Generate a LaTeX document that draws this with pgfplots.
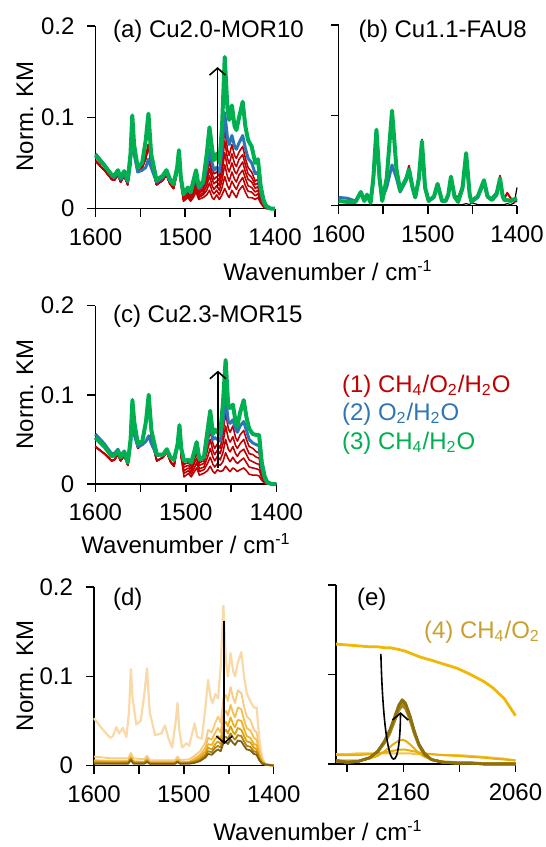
\documentclass[border=0pt]{standalone}
\usepackage{fontspec}
\setmainfont{Liberation Sans}
\usepackage{pgfplots}
\usepackage{pgfplotstable}
\pgfplotsset{compat=1.18}
\usetikzlibrary{arrows.meta}

\definecolor{cred}{HTML}{C00000}
\definecolor{cblue}{HTML}{2E75B6}
\definecolor{cgreen}{HTML}{00B050}
\definecolor{cgold}{HTML}{C9A030}
\definecolor{dA}{HTML}{FAD9A8}
\definecolor{dB}{HTML}{F8CB80}
\definecolor{dC}{HTML}{F5BE55}
\definecolor{dD}{HTML}{F0B020}
\definecolor{dE}{HTML}{D9A010}
\definecolor{dF}{HTML}{B08410}
\definecolor{dG}{HTML}{806010}
\definecolor{eHi}{HTML}{F2B705}
\definecolor{eLo}{HTML}{F5C242}
\definecolor{eP}{HTML}{E8AE10}
\definecolor{eQ}{HTML}{A88A18}
\definecolor{eR}{HTML}{8C7010}

% (a) Cu2.0-MOR10
\pgfplotstableread{
wn   g    b    r1   r2   r3   r4   r5   r6
1600 .058 .060 .052 .052 .052 .052 .052 .052
1590 .047 .048 .042 .042 .042 .042 .042 .042
1582 .037 .036 .032 .032 .032 .032 .032 .032
1579 .036 .034 .031 .031 .031 .031 .031 .031
1575 .042 .040 .037 .037 .037 .037 .037 .037
1572 .034 .032 .029 .029 .029 .029 .029 .029
1568 .041 .038 .036 .036 .036 .036 .036 .036
1564 .031 .029 .026 .026 .026 .026 .026 .026
1561 .060 .050 .055 .055 .055 .055 .055 .055
1559 .102 .090 .098 .098 .098 .098 .098 .098
1557 .070 .060 .065 .065 .065 .065 .065 .065
1553 .045 .040 .040 .040 .040 .040 .040 .040
1548 .050 .042 .045 .045 .045 .045 .045 .045
1544 .075 .045 .055 .055 .055 .055 .055 .055
1541 .104 .054 .070 .070 .070 .070 .070 .070
1538 .060 .045 .050 .050 .050 .050 .050 .050
1532 .031 .029 .026 .026 .026 .026 .026 .026
1525 .036 .034 .031 .031 .031 .031 .031 .031
1521 .042 .040 .037 .037 .037 .037 .037 .037
1517 .032 .030 .027 .027 .027 .027 .027 .027
1513 .027 .026 .022 .022 .022 .022 .022 .022
1509 .045 .042 .040 .040 .040 .040 .040 .040
1507 .064 .060 .059 .059 .059 .059 .059 .059
1505 .035 .033 .030 .030 .030 .030 .030 .030
1502 .016 .015 .008 .009 .010 .012 .013 .014
1497 .023 .021 .012 .014 .015 .017 .018 .020
1494 .018 .017 .008 .009 .011 .012 .014 .015
1491 .030 .027 .012 .015 .017 .020 .022 .025
1488 .042 .038 .018 .021 .025 .028 .032 .035
1485 .024 .022 .010 .012 .014 .016 .018 .020
1480 .030 .027 .012 .015 .017 .020 .022 .025
1476 .060 .045 .015 .020 .025 .030 .035 .040
1473 .089 .065 .020 .028 .036 .044 .052 .060
1470 .065 .050 .012 .019 .025 .032 .038 .045
1468 .053 .042 .010 .016 .021 .027 .032 .038
1465 .060 .045 .015 .020 .025 .030 .035 .040
1462 .050 .040 .010 .015 .020 .025 .030 .035
1459 .090 .065 .015 .023 .031 .039 .047 .055
1456 .166 .105 .022 .035 .048 .061 .074 .087
1453 .110 .078 .015 .025 .035 .045 .055 .065
1451 .097 .070 .012 .021 .030 .040 .049 .058
1448 .113 .080 .020 .030 .040 .050 .060 .070
1445 .090 .068 .015 .024 .032 .041 .049 .058
1443 .086 .065 .012 .021 .029 .038 .046 .055
1440 .100 .072 .020 .028 .037 .045 .054 .062
1436 .117 .080 .025 .034 .042 .051 .059 .068
1433 .090 .066 .018 .025 .033 .040 .048 .055
1430 .075 .055 .012 .019 .025 .032 .038 .045
1426 .068 .050 .012 .018 .023 .029 .034 .040
1422 .050 .038 .010 .014 .018 .022 .026 .030
1419 .054 .040 .012 .016 .020 .024 .028 .032
1416 .025 .018 .006 .008 .009 .011 .012 .014
1413 .010 .007 .002 .003 .003 .004 .004 .005
1410 .003 .002 0    0    .001 .001 .001 .001
1405 0    0    0    0    0    0    0    0
1400 0    0    0    0    0    0    0    0
}\Ta

% (b) Cu1.1-FAU8
\pgfplotstableread{
wn     g    b    r    k
1600   .005 .009 .005 .001
1590   .004 .008 .004 .001
1581   .004 .005 .004 .001
1575   .015 .014 .015 .001
1571   .005 .005 .005 .001
1568   .012 .011 .012 .001
1564   .003 .004 .003 .001
1561   .030 .028 .030 .001
1557.5 .084 .082 .084 .001
1554   .030 .028 .030 .001
1551   .005 .008 .005 .001
1546   .030 .020 .030 .001
1540   .105 .045 .105 .001
1535   .040 .030 .040 .001
1531   .017 .015 .017 .001
1524   .030 .028 .032 .001
1521   .040 .038 .044 .001
1517   .020 .019 .022 .001
1514   .009 .009 .010 .001
1510   .030 .028 .032 .001
1506.5 .071 .068 .073 .001
1503   .020 .019 .022 .001
1499   .005 .005 .006 .001
1493   .010 .009 .010 .001
1489   .024 .022 .024 .001
1484   .005 .005 .006 .001
1480   .005 .005 .006 .001
1477   .012 .011 .012 .001
1474   .032 .030 .032 .001
1470   .010 .009 .011 .001
1466   .004 .004 .009 .001
1461   .020 .018 .022 .001
1457   .058 .055 .058 .002
1453   .012 .011 .013 .001
1451   .004 .004 .006 .003
1444   .010 .009 .011 .001
1437   .028 .025 .028 .001
1433   .010 .009 .010 .001
1428   .006 .008 .008 .001
1423   .012 .014 .014 .001
1419   .030 .026 .033 .001
1416   .010 .010 .012 .001
1414   .006 .006 .008 .001
1411   .006 .006 .014 .002
1407   .005 .005 .008 .001
1403   .007 .006 .004 .003
1400   .008 .007 .005 .020
}\Tb

% (c) Cu2.3-MOR15
\pgfplotstableread{
wn   g    b    r1   r2   r3   r4   r5
1600 .052 .056 .042 .042 .042 .042 .042
1590 .042 .045 .034 .034 .034 .034 .034
1582 .031 .034 .026 .026 .026 .026 .026
1579 .032 .034 .027 .027 .027 .027 .027
1575 .037 .039 .033 .033 .033 .033 .033
1572 .030 .032 .026 .026 .026 .026 .026
1568 .036 .037 .032 .032 .032 .032 .032
1564 .024 .027 .021 .021 .021 .021 .021
1561 .050 .045 .050 .050 .050 .050 .050
1559 .094 .088 .095 .095 .095 .095 .095
1557 .070 .055 .060 .060 .060 .060 .060
1553 .045 .042 .040 .040 .040 .040 .040
1548 .048 .044 .045 .045 .045 .045 .045
1544 .070 .048 .070 .070 .070 .070 .070
1541 .100 .054 .100 .100 .100 .100 .100
1538 .060 .045 .050 .050 .050 .050 .050
1532 .033 .032 .026 .026 .026 .026 .026
1525 .033 .033 .030 .030 .030 .030 .030
1521 .039 .038 .036 .036 .036 .036 .036
1517 .030 .030 .025 .025 .025 .025 .025
1513 .027 .027 .020 .020 .020 .020 .020
1509 .045 .042 .045 .045 .045 .045 .045
1507 .066 .060 .066 .066 .066 .066 .066
1505 .040 .038 .030 .030 .030 .030 .030
1502 .026 .026 .008 .012 .015 .019 .022
1497 .027 .027 .012 .015 .018 .021 .024
1494 .024 .024 .008 .011 .014 .017 .020
1491 .035 .033 .013 .017 .022 .026 .030
1488 .047 .043 .018 .024 .029 .035 .040
1485 .028 .027 .010 .014 .017 .021 .024
1480 .030 .029 .012 .016 .019 .023 .026
1476 .060 .050 .015 .023 .030 .038 .045
1473 .082 .068 .020 .030 .040 .050 .060
1470 .056 .050 .014 .022 .030 .037 .045
1468 .061 .052 .012 .019 .026 .033 .040
1465 .058 .050 .016 .023 .031 .038 .045
1462 .056 .048 .014 .021 .027 .034 .040
1459 .090 .068 .015 .025 .035 .045 .055
1456 .139 .097 .020 .035 .050 .065 .080
1453 .086 .070 .016 .028 .039 .051 .062
1451 .085 .068 .014 .025 .036 .047 .058
1448 .089 .072 .018 .030 .042 .053 .065
1445 .070 .062 .016 .025 .034 .043 .052
1443 .065 .058 .014 .023 .031 .040 .048
1440 .080 .065 .016 .026 .036 .045 .055
1436 .094 .070 .018 .029 .039 .050 .060
1433 .075 .060 .015 .024 .033 .041 .050
1430 .062 .050 .011 .019 .027 .034 .042
1426 .056 .046 .010 .018 .025 .033 .040
1422 .055 .044 .010 .017 .023 .030 .036
1419 .055 .043 .009 .016 .022 .029 .035
1416 .024 .018 .004 .007 .010 .012 .015
1413 .009 .006 .001 .002 .003 .004 .005
1410 .002 .001 0    0    .001 .001 .001
1405 0    0    0    0    0    0    0
1400 0    0    0    0    0    0    0
}\Tc

% (d) first spectrum under CH4/O2
\pgfplotstableread{
wn   d1
1600 .053
1590 .040
1582 .031
1579 .033
1575 .043
1572 .036
1568 .042
1564 .032
1561 .060
1559 .108
1557 .075
1553 .046
1548 .050
1544 .080
1541 .109
1538 .060
1532 .034
1525 .036
1521 .045
1517 .030
1513 .020
1509 .050
1507 .070
1505 .040
1502 .020
1497 .025
1494 .022
1491 .035
1488 .047
1485 .032
1480 .030
1476 .065
1473 .096
1470 .075
1468 .070
1465 .080
1462 .075
1459 .110
1456 .179
1453 .115
1451 .100
1448 .126
1445 .105
1443 .100
1440 .115
1436 .127
1433 .100
1430 .081
1426 .072
1422 .065
1419 .065
1416 .030
1413 .010
1410 .002
1405 0
1400 0
}\Tda

% (d) later spectra
\pgfplotstableread{
wn   d2   d3   d4   d5   d6   d7
1600 .010 .006 .005 .004 .003 .002
1580 .008 .005 .004 .003 .003 .002
1562 .008 .005 .004 .004 .003 .002
1559 .014 .010 .009 .008 .007 .006
1556 .008 .005 .004 .003 .003 .002
1544 .007 .004 .004 .003 .003 .002
1541 .011 .008 .007 .006 .005 .004
1538 .006 .004 .003 .003 .002 .002
1510 .006 .004 .003 .003 .002 .002
1507 .010 .007 .006 .005 .004 .004
1504 .006 .004 .003 .003 .002 .002
1494 .007 .004 .004 .003 .003 .002
1488 .011 .008 .006 .005 .004 .003
1482 .016 .012 .010 .008 .006 .005
1476 .026 .020 .016 .013 .011 .009
1473 .040 .031 .024 .020 .016 .013
1469 .037 .029 .023 .018 .015 .012
1465 .048 .037 .030 .024 .020 .016
1462 .055 .042 .033 .027 .022 .018
1459 .048 .037 .030 .024 .020 .016
1456 .075 .058 .046 .037 .031 .025
1453 .079 .061 .049 .040 .032 .026
1451 .072 .056 .044 .036 .030 .024
1448 .088 .068 .054 .044 .036 .029
1445 .075 .058 .046 .037 .031 .025
1443 .070 .054 .043 .035 .029 .023
1440 .084 .065 .051 .042 .034 .028
1436 .081 .063 .050 .040 .033 .027
1433 .066 .051 .041 .033 .027 .022
1430 .055 .042 .033 .027 .022 .018
1426 .051 .039 .031 .026 .021 .017
1422 .040 .031 .024 .020 .016 .013
1419 .037 .029 .023 .018 .015 .012
1416 .018 .014 .011 .009 .007 .006
1413 .007 .005 .004 .004 .003 .002
1409 .002 .001 .001 .001 .001 .001
1400 0    0    0    0    0    0
}\Tdb

% (e) CO region
\pgfplotstableread{
wn   hi   lo   p1   p2   p3   p4   p5   p6
2220 .134 .011 .010 .004 .003 .003 .004 .004
2210 .133 .011 .010 .004 .002 .002 .002 .002
2200 .132 .012 .010 .004 .003 .003 .003 .003
2190 .131 .012 .011 .006 .007 .007 .007 .007
2183 .131 .012 .012 .009 .013 .014 .014 .014
2177 .130 .012 .013 .014 .023 .024 .025 .025
2172 .130 .012 .014 .019 .034 .036 .038 .038
2168 .129 .012 .015 .023 .047 .049 .051 .052
2164 .128 .012 .016 .026 .060 .063 .065 .066
2161 .127 .012 .016 .027 .065 .068 .071 .072
2158 .126 .012 .016 .026 .062 .065 .067 .068
2154 .124 .012 .015 .022 .049 .051 .053 .054
2150 .122 .011 .014 .017 .033 .034 .036 .036
2146 .120 .011 .013 .012 .020 .021 .022 .022
2141 .118 .011 .012 .008 .010 .011 .011 .012
2135 .116 .011 .011 .005 .005 .005 .005 .005
2125 .112 .010 .010 .003 .002 .002 .002 .002
2112 .107 .010 .009 .002 .001 .001 .001 .001
2100 .100 .009 .008 .002 .001 .001 .001 .001
2088 .092 .008 .007 .001 0    0    0    0
2080 .085 .007 .006 .001 0    0    0    0
2070 .073 .006 .005 .001 0    0    0    0
2060 .054 .004 .004 .001 0    0    0    0
}\Te

\pgfplotsset{
  panel/.style={
    scale only axis, clip=false, anchor=south west,
    axis lines=left, axis line style={-, line width=0.75pt, black},
    tick align=outside, major tick length=4pt,
    tick style={black, line width=0.75pt},
    ymin=0, ymax=0.2, ytick={0,0.1,0.2},
    xmin=-1600, xmax=-1400,
    xtick={-1600,-1550,-1500,-1450,-1400},
    xticklabels={1600,,1500,,1400},
    yticklabels={0,0.1,0.2},
    ticklabel style={font=\fontsize{12}{14}\selectfont},
    xticklabel style={yshift=-2.5pt},
    yticklabel style={xshift=-3pt},
    /pgf/number format/assume math mode=true,
  },
}
\tikzset{arr/.style={line width=0.8pt, black, -{Straight Barb[length=3.5pt,width=8pt]}}}

\begin{document}
\begin{tikzpicture}[font=\fontsize{12}{14}\selectfont, line join=round]
\useasboundingbox (0,0) rectangle (273pt,-423.5pt);

% (a)
\begin{axis}[panel, at={(47.75pt,-104.25pt)}, width=89.75pt, height=91.25pt]
\foreach \c in {r1,r2,r3,r4,r5,r6}{
  \addplot[cred, line width=0.8pt] table[x expr=-\thisrow{wn}, y=\c] {\Ta};
}
\addplot[cblue, line width=1.5pt] table[x expr=-\thisrow{wn}, y=b] {\Ta};
\addplot[cgreen, line width=2pt] table[x expr=-\thisrow{wn}, y=g] {\Ta};
\draw[arr] (axis cs:-1464,0.023) -- (axis cs:-1464,0.155);
\end{axis}

% (b)
\begin{axis}[panel, at={(169.25pt,-102.75pt)}, width=89.25pt, height=90.25pt, yticklabels={}]
\addplot[black, line width=0.6pt] table[x expr=-\thisrow{wn}, y=k] {\Tb};
\addplot[cred, line width=1pt] table[x expr=-\thisrow{wn}, y=r] {\Tb};
\addplot[cblue, line width=1.5pt] table[x expr=-\thisrow{wn}, y=b] {\Tb};
\addplot[cgreen, line width=2pt] table[x expr=-\thisrow{wn}, y=g] {\Tb};
\end{axis}

% (c)
\begin{axis}[panel, at={(47.65pt,-242pt)}, width=90.5pt, height=89.25pt]
\foreach \c in {r1,r2,r3,r4,r5}{
  \addplot[cred, line width=0.8pt] table[x expr=-\thisrow{wn}, y=\c] {\Tc};
}
\addplot[cblue, line width=1.5pt] table[x expr=-\thisrow{wn}, y=b] {\Tc};
\addplot[cgreen, line width=2pt] table[x expr=-\thisrow{wn}, y=g] {\Tc};
\draw[arr] (axis cs:-1464.5,0.018) -- (axis cs:-1464.5,0.127);
\end{axis}

% (d)
\begin{axis}[panel, at={(47pt,-382.75pt)}, width=89.85pt, height=89.25pt]
\addplot[dA, line width=1.1pt] table[x expr=-\thisrow{wn}, y=d1] {\Tda};
\addplot[dB, line width=0.9pt] table[x expr=-\thisrow{wn}, y=d2] {\Tdb};
\addplot[dC, line width=0.9pt] table[x expr=-\thisrow{wn}, y=d3] {\Tdb};
\addplot[dD, line width=0.9pt] table[x expr=-\thisrow{wn}, y=d4] {\Tdb};
\addplot[dE, line width=0.9pt] table[x expr=-\thisrow{wn}, y=d5] {\Tdb};
\addplot[dF, line width=0.9pt] table[x expr=-\thisrow{wn}, y=d6] {\Tdb};
\addplot[dG, line width=0.9pt] table[x expr=-\thisrow{wn}, y=d7] {\Tdb};
\draw[arr] (axis cs:-1455,0.162) -- (axis cs:-1455,0.024);
\end{axis}

% (e)
\begin{axis}[panel, at={(168pt,-382pt)}, width=89.75pt, height=89.5pt,
  xmin=-2220, xmax=-2060, xtick={-2210,-2160,-2110,-2060},
  xticklabels={,2160,,2060}, yticklabels={}]
\addplot[eHi, line width=1.4pt] table[x expr=-\thisrow{wn}, y=hi] {\Te};
\addplot[eLo, line width=1pt] table[x expr=-\thisrow{wn}, y=lo] {\Te};
\addplot[eP, line width=1pt] table[x expr=-\thisrow{wn}, y=p1] {\Te};
\addplot[eP, line width=1pt] table[x expr=-\thisrow{wn}, y=p2] {\Te};
\addplot[eQ, line width=1.3pt] table[x expr=-\thisrow{wn}, y=p3] {\Te};
\addplot[eQ, line width=1.3pt] table[x expr=-\thisrow{wn}, y=p4] {\Te};
\addplot[eR, line width=1.3pt] table[x expr=-\thisrow{wn}, y=p5] {\Te};
\addplot[eR, line width=1.3pt] table[x expr=-\thisrow{wn}, y=p6] {\Te};
\draw[arr] (axis cs:-2180,0.123) .. controls (axis cs:-2177,-0.02) and (axis cs:-2163,-0.02) .. (axis cs:-2162.5,0.058);
\end{axis}

% titles and labels
\node[anchor=base west] at (53pt,-18.5pt) {(a) Cu2.0-MOR10};
\node[anchor=base west] at (175.8pt,-18.5pt) {(b) Cu1.1-FAU8};
\node[anchor=base west] at (53pt,-161pt) {(c) Cu2.3-MOR15};
\node[anchor=base west] at (53pt,-302.5pt) {(d)};
\node[anchor=base west] at (175pt,-302.5pt) {(e)};
\node[anchor=base west, text=cgold] at (208.5pt,-319pt) {(4) CH\textsubscript{4}/O\textsubscript{2}};

\node[rotate=90] at (12.5pt,-58.25pt) {Norm. KM};
\node[rotate=90] at (12.5pt,-197.25pt) {Norm. KM};
\node[rotate=90] at (12.5pt,-338pt) {Norm. KM};

\node[anchor=base] at (164pt,-140pt) {Wavenumber / cm\textsuperscript{-1}};
\node[anchor=base] at (93pt,-276.5pt) {Wavenumber / cm\textsuperscript{-1}};
\node[anchor=base] at (159pt,-420pt) {Wavenumber / cm\textsuperscript{-1}};

\node[anchor=base west, text=cred] at (167.5pt,-196pt) {(1) CH\textsubscript{4}/O\textsubscript{2}/H\textsubscript{2}O};
\node[anchor=base west, text=cblue] at (167.5pt,-210pt) {(2) O\textsubscript{2}/H\textsubscript{2}O};
\node[anchor=base west, text=cgreen] at (167.5pt,-224.5pt) {(3) CH\textsubscript{4}/H\textsubscript{2}O};
\end{tikzpicture}
\end{document}
